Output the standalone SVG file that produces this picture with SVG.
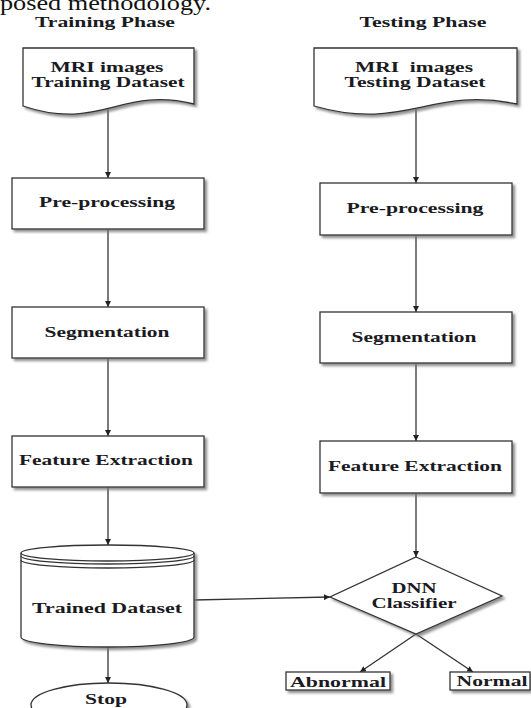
<svg xmlns="http://www.w3.org/2000/svg" width="531" height="708" viewBox="0 0 531 708">
<defs>
<style>
.shape{fill:#fff;stroke:#333;stroke-width:1.3;filter:url(#sh)}
.ln{fill:none;stroke:#333;stroke-width:1.3}
.arr{fill:none;stroke:#333;stroke-width:1.3;marker-end:url(#ah)}
text{font-family:"Liberation Serif","Times New Roman",serif;font-weight:bold;font-size:15px;fill:#1a1a22;text-anchor:middle}
.cap{font-weight:normal;font-size:22px;text-anchor:start;fill:#111}
</style>
<filter id="sh" x="-10%" y="-10%" width="130%" height="140%">
<feDropShadow dx="2.5" dy="2.5" stdDeviation="1" flood-color="#777" flood-opacity="0.8"/>
</filter>
<marker id="ah" viewBox="0 0 10 10" refX="10" refY="5" markerWidth="6" markerHeight="6" markerUnits="userSpaceOnUse" orient="auto">
<path d="M0,0 L10,5 L0,10 z" fill="#222"/>
</marker>
</defs>
<rect width="531" height="708" fill="#fff"/>
<text class="cap" x="0" y="10" textLength="211" lengthAdjust="spacingAndGlyphs">posed methodology.</text>
<text x="105" y="27" textLength="140" lengthAdjust="spacingAndGlyphs">Training Phase</text>
<text x="423" y="27" textLength="127" lengthAdjust="spacingAndGlyphs">Testing Phase</text>

<g id="connectors">
<line class="arr" x1="108" y1="107" x2="108" y2="178"/>
<line class="arr" x1="108" y1="229" x2="108" y2="307"/>
<line class="arr" x1="108" y1="358" x2="108" y2="436"/>
<line class="arr" x1="108" y1="487" x2="108" y2="545"/>
<line class="arr" x1="108" y1="647" x2="108" y2="683"/>
<line class="arr" x1="416" y1="108" x2="416" y2="183"/>
<line class="arr" x1="416" y1="235" x2="416" y2="312"/>
<line class="arr" x1="416" y1="363" x2="416" y2="441"/>
<line class="arr" x1="416" y1="493" x2="416" y2="557"/>
<line class="arr" x1="194" y1="600" x2="330" y2="597"/>
<line class="arr" x1="416" y1="634" x2="360" y2="672"/>
<line class="arr" x1="416" y1="634" x2="473" y2="672"/>
</g>

<g id="train-input">
<path class="shape" d="M23,48 L194,48 L194,104 C120,86 100,132 23,106 Z"/>
<text x="107" y="72" textLength="113" lengthAdjust="spacingAndGlyphs">MRI images</text>
<text x="108" y="87" textLength="153" lengthAdjust="spacingAndGlyphs">Training Dataset</text>
</g>
<g id="train-pre">
<rect class="shape" x="12" y="178" width="192" height="51"/>
<text x="107" y="207" textLength="136" lengthAdjust="spacingAndGlyphs">Pre-processing</text>
</g>
<g id="train-seg">
<rect class="shape" x="12" y="307" width="192" height="51"/>
<text x="107" y="337" textLength="125" lengthAdjust="spacingAndGlyphs">Segmentation</text>
</g>
<g id="train-fe">
<rect class="shape" x="12" y="436" width="192" height="51"/>
<text x="106" y="465" textLength="174" lengthAdjust="spacingAndGlyphs">Feature Extraction</text>
</g>
<g id="trained-dataset">
<path class="shape" d="M21,553 A86.5,8 0 0 1 194,553 L194,637 A86.5,10 0 0 1 21,637 Z"/>
<path class="ln" d="M21,553 A86.5,8 0 0 0 194,553"/>
<path class="ln" d="M21,556 A86.5,8 0 0 0 194,556"/>
<path class="ln" d="M21,560 A86.5,8 0 0 0 194,560"/>
<text x="107" y="613" textLength="150" lengthAdjust="spacingAndGlyphs">Trained Dataset</text>
</g>
<g id="stop">
<ellipse class="shape" cx="109" cy="705" rx="78" ry="22"/>
<text x="106" y="704" textLength="42" lengthAdjust="spacingAndGlyphs">Stop</text>
</g>

<g id="test-input">
<path class="shape" d="M314,48 L517,48 L517,104 C430,86 405,132 314,106 Z"/>
<text x="414" y="72" textLength="118" lengthAdjust="spacingAndGlyphs" xml:space="preserve">MRI  images</text>
<text x="415" y="87" textLength="141" lengthAdjust="spacingAndGlyphs">Testing Dataset</text>
</g>
<g id="test-pre">
<rect class="shape" x="320" y="183" width="192" height="52"/>
<text x="415" y="213" textLength="137" lengthAdjust="spacingAndGlyphs">Pre-processing</text>
</g>
<g id="test-seg">
<rect class="shape" x="320" y="312" width="192" height="51"/>
<text x="414" y="342" textLength="125" lengthAdjust="spacingAndGlyphs">Segmentation</text>
</g>
<g id="test-fe">
<rect class="shape" x="320" y="441" width="192" height="52"/>
<text x="415" y="471" textLength="174" lengthAdjust="spacingAndGlyphs">Feature Extraction</text>
</g>
<g id="dnn">
<path class="shape" d="M416,557 L502,596 L416,634 L330,597 Z"/>
<text x="414" y="593" textLength="45" lengthAdjust="spacingAndGlyphs">DNN</text>
<text x="414" y="608" textLength="85" lengthAdjust="spacingAndGlyphs">Classifier</text>
</g>
<g id="abnormal">
<rect class="shape" x="286" y="672" width="104" height="18"/>
<text x="338" y="687" textLength="96" lengthAdjust="spacingAndGlyphs">Abnormal</text>
</g>
<g id="normal">
<rect class="shape" x="450" y="672" width="80" height="18"/>
<text x="492" y="686" textLength="71" lengthAdjust="spacingAndGlyphs">Normal</text>
</g>
</svg>
